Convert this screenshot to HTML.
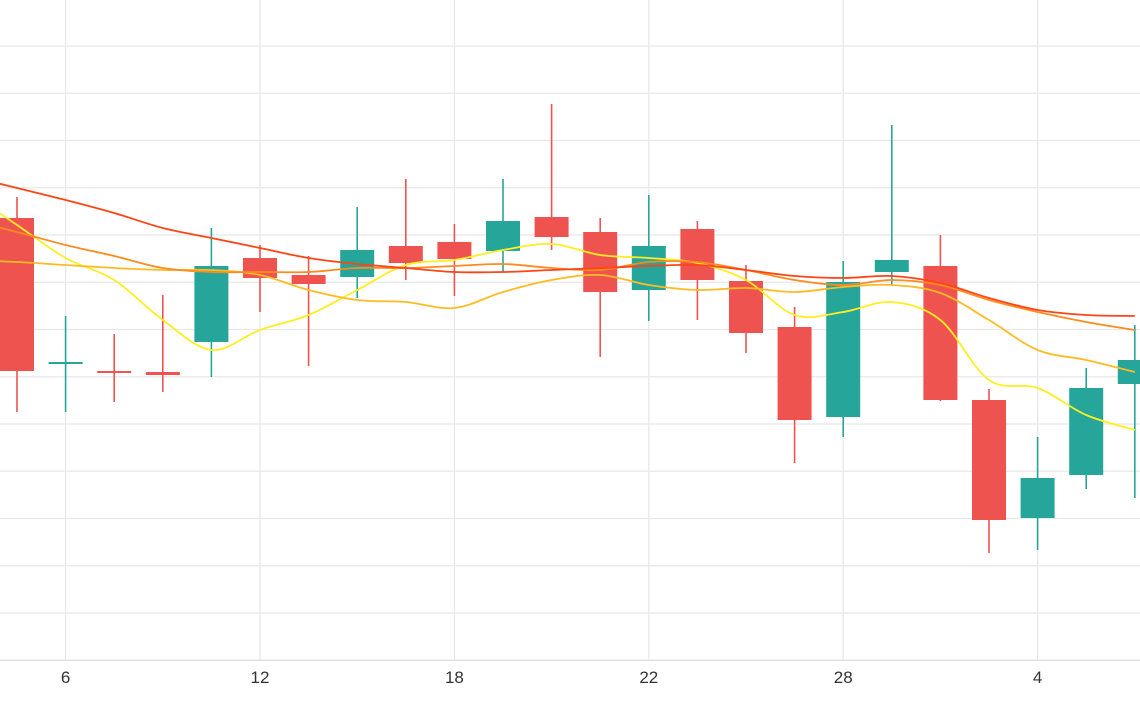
<!DOCTYPE html>
<html><head><meta charset="utf-8"><style>
html,body{margin:0;padding:0;background:#fff;width:1140px;height:710px;overflow:hidden}
svg{display:block;font-family:"Liberation Sans",sans-serif}
</style></head><body>
<svg id="chart" width="1140" height="710" viewBox="0 0 1140 710"></svg>
<script>
const xLabels = ["6","12","18","22","28","4"];
const xLabelIdx = [1,5,9,13,17,21];
const opens  = [482,338,329,328,358,442,425,423,454,458,449,483,468,410,471,419,373,283,428,434,300,182,225,316];
const closes = [329,338,327,325,434,422,416,450,437,441,479,463,408,454,420,367,280,418,440,300,180,222,312,340];
const highs  = [503,384,366,405,472,455,444,493,521,476,521,596,482,505,479,435,393,439,575,465,311,263,332,375];
const lows   = [288,288,298,308,323,388,334,402,420,404,428,450,343,379,380,347,237,263,414,299,147,150,211,202];
// moving averages, first value is the bar before the visible window
const ma1 = [508,475,442,420,380,350,370,385,410,435,440,450,456,445,442,437,420,385,388,398,380,320,312,285,270];
const ma2 = [440,438,435,432,430,430,425,410,400,398,392,408,420,425,415,410,412,408,413,415,407,380,350,340,328];
const ma3 = [480,468,455,444,432,428,428,428,432,432,434,436,432,430,438,438,430,420,415,420,415,400,388,378,370];
const ma4 = [524,512,500,487,472,462,452,442,436,432,428,428,430,432,434,435,430,424,422,424,417,402,390,385,384];

const NS="http://www.w3.org/2000/svg";
const svg=document.getElementById('chart');
const x=i=>17+i*48.6;
const y=v=>700-v;
function mk(tag,attrs,parent){const e=document.createElementNS(NS,tag);for(const k in attrs)e.setAttribute(k,attrs[k]);(parent||svg).appendChild(e);return e;}

const grid=mk('g',{});


for(let k=0;k<14;k++){const gy=46+k*47.25;
  const l=mk('line',{x1:0,x2:1140,y1:gy,y2:gy,stroke:k==13?'#dcdcdc':'#e8e8e8','stroke-width':1.3},grid);
  
  }
xLabelIdx.forEach((idx,j)=>{const gx=x(idx);
  const l=mk('line',{x1:gx,x2:gx,y1:0,y2:660,stroke:'#e8e8e8','stroke-width':1.3},grid);
  
  
  const t=mk('text',{x:gx,y:683,'text-anchor':'middle','font-size':17,fill:'#333'});
  t.textContent=xLabels[j];
  
  });

const cg=mk('g',{});


opens.forEach((o,i)=>{const c=closes[i];const up=c>=o;const col=up?'#26a69a':'#ef5350';
  const g=mk('g',{},cg);
  
  
  mk('line',{x1:x(i),x2:x(i),y1:y(highs[i]),y2:y(lows[i]),stroke:col,'stroke-width':1.6},g);
  const top=y(Math.max(o,c)),h=Math.max(2,Math.abs(o-c));
  mk('rect',{x:x(i)-17,y:top,width:34,height:h,fill:col},g);});

function path(arr){const pts=arr.map((v,i)=>[x(i-1),y(v)]);let d='M'+pts[0][0]+','+pts[0][1];
  for(let i=0;i<pts.length-1;i++){const p0=pts[Math.max(0,i-1)],p1=pts[i],p2=pts[i+1],p3=pts[Math.min(pts.length-1,i+2)];
    const c1=[p1[0]+(p2[0]-p0[0])/6,p1[1]+(p2[1]-p0[1])/6],c2=[p2[0]-(p3[0]-p1[0])/6,p2[1]-(p3[1]-p1[1])/6];
    d+=` C${c1[0]},${c1[1]} ${c2[0]},${c2[1]} ${p2[0]},${p2[1]}`;}
  return d;}
[[ma1,'#ffee22','ma-5'],[ma2,'#ffbb22','ma-10'],[ma3,'#ff8a1e','ma-20'],[ma4,'#ff4515','ma-30']].forEach(([a,col,n])=>{
  const p=mk('path',{d:path(a),fill:'none',stroke:col,'stroke-width':1.8});
  
  });
</script>
</body></html>
